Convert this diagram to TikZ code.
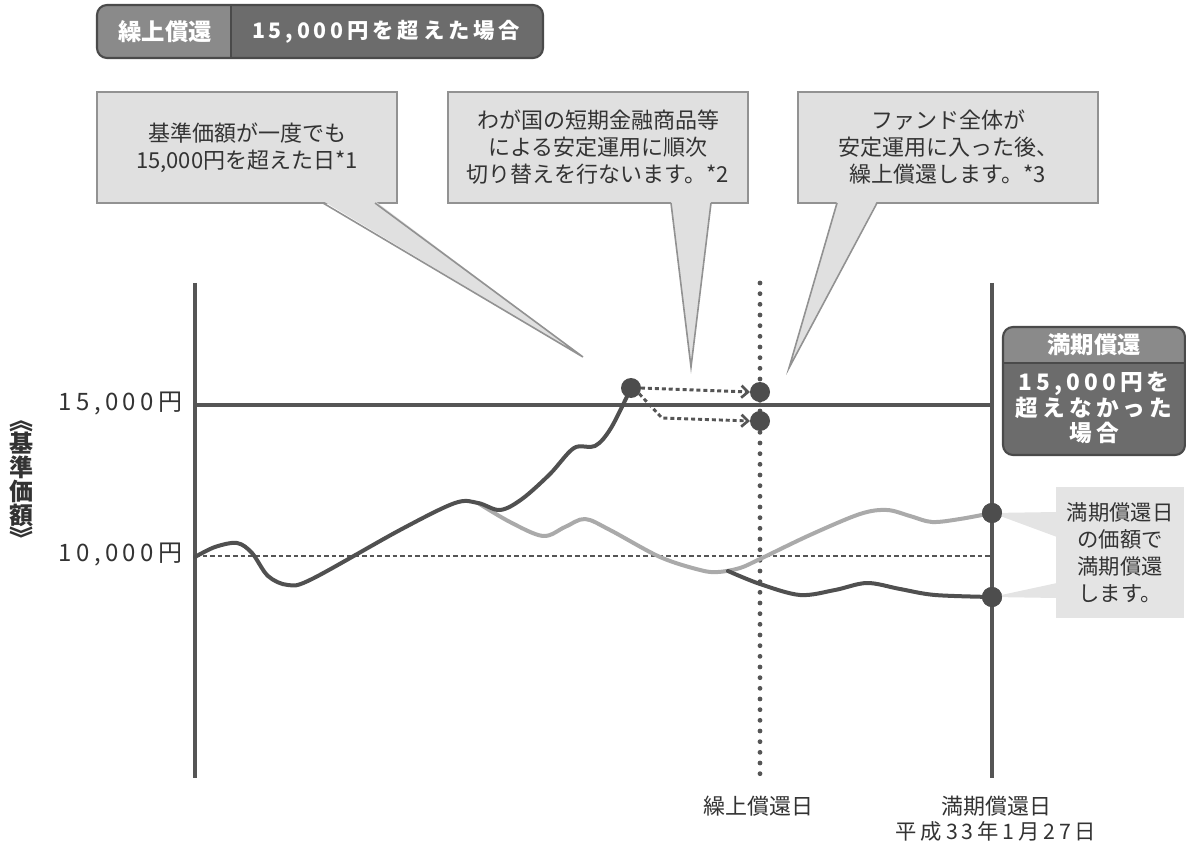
\documentclass[tikz,border=0pt]{standalone}
\usepackage{fontspec}
\newfontfamily\jp{Noto Sans CJK JP}
\newfontfamily\jpls{Noto Sans CJK JP}[LetterSpace=18]
\usetikzlibrary{arrows.meta,calc}
\definecolor{axisc}{HTML}{555555}
\definecolor{darkc}{HTML}{505050}
\definecolor{lightc}{HTML}{AAAAAA}
\definecolor{cfill}{HTML}{E0E0E0}
\definecolor{cedge}{HTML}{929292}
\definecolor{bleft}{HTML}{8A8A8A}
\definecolor{bright}{HTML}{6C6C6C}
\definecolor{bedge}{HTML}{4A4A4A}
\definecolor{rfill}{HTML}{E4E4E4}
\definecolor{txt}{HTML}{333333}
\definecolor{dotc}{HTML}{4D4D4D}
\begin{document}
\begin{tikzpicture}[x=0.75pt,y=-0.75pt,
  every node/.style={inner sep=0pt, outer sep=0pt},
  cbox/.style={draw=cedge, line width=1.2pt, fill=cfill, minimum width=225pt, minimum height=83.25pt, anchor=north west, align=center, text=txt, font=\jp\fontsize{16.5pt}{20.25pt}\selectfont},
  tailfill/.style={fill=cfill},
  tailedge/.style={draw=cedge, line width=1.2pt, line join=miter},
  axisline/.style={draw=axisc, line width=3pt},
  darkcurve/.style={draw=darkc, line width=3pt, line cap=round, line join=round},
  lightcurve/.style={draw=lightc, line width=3pt, line cap=round, line join=round},
  dotnode/.style={circle, fill=dotc, minimum size=15pt},
  arr/.style={draw=axisc, line width=2.2pt, dash pattern=on 3pt off 2.2pt, -{Straight Barb[length=5pt,width=9pt,line width=2pt]}},
  axlabel/.style={text=txt, font=\jpls\fontsize{18pt}{20pt}\selectfont, anchor=east},
  whitebold/.style={text=white, font=\jpls\bfseries\fontsize{16pt}{19pt}\selectfont, align=center},
  botlabel/.style={text=txt, font=\jp\fontsize{16.5pt}{19pt}\selectfont, align=center}
]
\useasboundingbox (0,0) rectangle (1186,845);

% ---------- top banner ----------
\begin{scope}
  \clip[rounded corners=7.5pt] (97,5) rectangle (543,58);
  \fill[bright] (97,5) rectangle (543,58);
  \fill[bleft] (97,5) rectangle (231,58);
\end{scope}
\draw[bedge, line width=1pt] (231,5) -- (231,58);
\draw[bedge, line width=1.6pt, rounded corners=7.5pt] (97,5) rectangle (543,58);
\node[whitebold, font=\jp\bfseries\fontsize{17.5pt}{19pt}\selectfont] (bantag) at (165,32) {繰上償還};
\node[whitebold] (bantext) at (386,32) {15,000円を超えた場合};

% ---------- axes ----------
\coordinate (ltop) at (195,283);
\coordinate (lbot) at (195,778);
\coordinate (rtop) at (992,283);
\coordinate (rbot) at (992,778);
\coordinate (mtop) at (760,283);
\coordinate (mbot) at (760,778);
\coordinate (l15) at (195,405);
\coordinate (r15) at (992,405);
\coordinate (l10) at (195,556);
\coordinate (r10) at (992,556);

\draw[axisc, line width=1.4pt, dash pattern=on 3.5pt off 2.2pt] (l10) -- (r10);
\draw[axisc, line width=3.6pt, line cap=round, dash pattern=on 0pt off 8pt] (mtop) -- (mbot);
\draw[axisline] (l15) -- (r15);
\draw[axisline] (ltop) -- (lbot);
\draw[axisline] (rtop) -- (rbot);

% ---------- curves ----------
\draw[lightcurve] plot[smooth, tension=0.55] coordinates {(478,503) (510,522) (543,536) (565,527) (585,519) (610,530) (660,557) (700,570) (718,572) (740,568) (760,559) (810,535) (860,514) (887,510) (910,516) (932,522) (960,519) (992,513)};
\draw[darkcurve] plot[smooth, tension=0.55] coordinates {(728,571) (760,584) (800,595) (835,590) (867,583) (900,589) (935,595) (992,597)};
\draw[darkcurve] plot[smooth, tension=0.55] coordinates {(195,557) (215,547) (237,543) (252,553) (268,576) (288,585) (312,579) (400,530) (455,503) (478,503) (500,510) (522,499) (550,474) (574,448) (595,446) (611,428) (631,388)};

% ---------- dots ----------
\node[dotnode] (d1) at (631,388) {};
\node[dotnode] (d2) at (760,392) {};
\node[dotnode] (d3) at (760,421) {};
\node[dotnode] (d4) at (992,513) {};
\node[dotnode] (d5) at (992,597) {};
\coordinate (bend) at (662,418);
\draw[arr] (d1.east) -- (d2.west);
\draw[arr] (d1.-35) -- (bend) -- (d3.west);

% ---------- callouts ----------
\node[cbox] (c1) at (97,92) {基準価額が一度でも\\15,000円を超えた日*1};
\node[cbox] (c2) at (448,92) {わが国の短期金融商品等\\による安定運用に順次\\切り替えを行ないます。*2};
\node[cbox] (c3) at (798,92) {ファンド全体が\\安定運用に入った後、\\繰上償還します。*3};
\coordinate (t1) at (583,357);
\coordinate (t2) at (691,367);
\coordinate (t3) at (789,368);
\fill[tailfill] ($(c1.south west)+(226,-2)$) -- (t1) -- ($(c1.south west)+(278,-2)$) -- cycle;
\draw[tailedge] ($(c1.south west)+(226,0)$) -- (t1) -- ($(c1.south west)+(278,0)$);
\fill[tailfill] ($(c2.south west)+(223,-2)$) -- (t2) -- ($(c2.south west)+(263,-2)$) -- cycle;
\draw[tailedge] ($(c2.south west)+(223,0)$) -- (t2) -- ($(c2.south west)+(263,0)$);
\fill[tailfill] ($(c3.south west)+(39,-2)$) -- (t3) -- ($(c3.south west)+(79,-2)$) -- cycle;
\draw[tailedge] ($(c3.south west)+(39,0)$) -- (t3) -- ($(c3.south west)+(79,0)$);

% ---------- right box ----------
\begin{scope}
  \clip[rounded corners=7.5pt] (1003,327) rectangle (1185,455);
  \fill[bright] (1003,327) rectangle (1185,455);
  \fill[bleft] (1003,327) rectangle (1185,363);
\end{scope}
\draw[bedge, line width=1pt] (1003,363) -- (1185,363);
\draw[bedge, line width=1.6pt, rounded corners=7.5pt] (1003,327) rectangle (1185,455);
\node[whitebold, font=\jp\bfseries\fontsize{17.5pt}{19pt}\selectfont] (rhead) at (1094,345) {満期償還};
\node[whitebold, font=\jpls\bfseries\fontsize{17pt}{19pt}\selectfont] (rbody) at (1094,408) {15,000円を\\超えなかった\\場合};

% ---------- right callout ----------
\node[fill=rfill, minimum width=96pt, minimum height=98.25pt, anchor=north west, align=center, text=txt, font=\jp\fontsize{16pt}{20.25pt}\selectfont] (rc) at (1056,487) {満期償還日\\の価額で\\満期償還\\します。};
\fill[rfill] (d4.center) -- ($(rc.north west)+(1,25)$) -- ($(rc.north west)+(1,50)$) -- cycle;
\fill[rfill] (d5.center) -- ($(rc.north west)+(1,96)$) -- ($(rc.north west)+(1,111)$) -- cycle;
\node[dotnode] at (d4) {};
\node[dotnode] at (d5) {};

% ---------- labels ----------
\node[axlabel] (lab15) at (182,404) {15,000円};
\node[axlabel] (lab10) at (182,555) {10,000円};
\node[text=txt, align=center, font=\jp\bfseries\fontsize{18pt}{17.8pt}\selectfont] (ylab) at (22,484) {︽\\基\\準\\価\\額\\︾};
\node[botlabel] (bl1) at (758,806) {繰上償還日};
\node[botlabel] (bl2) at (996,806) {満期償還日};
\node[botlabel, font=\jpls\fontsize{16pt}{19pt}\selectfont] (bl3) at (996,831) {平成33年1月27日};
\end{tikzpicture}
\end{document}
